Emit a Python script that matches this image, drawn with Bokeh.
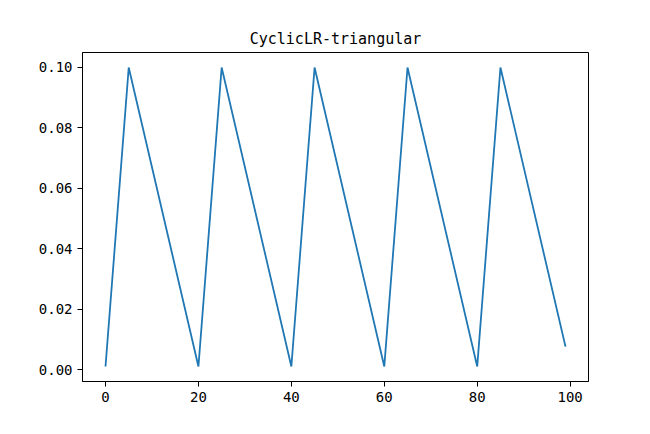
from bokeh.plotting import figure
from bokeh.models import FixedTicker, Range1d, CustomJSTickFormatter
from bokeh.embed import file_html
from bokeh.resources import INLINE

# Vertices of the CyclicLR triangular schedule (epochs and learning rate)
epochs = [0, 5, 20, 25, 40, 45, 60, 65, 80, 85, 99]
lr = [0.001, 0.1, 0.001, 0.1, 0.001, 0.1, 0.001, 0.1, 0.001, 0.1, 0.0076]
x_ticks = [0, 20, 40, 60, 80, 100]
y_ticks = [0.00, 0.02, 0.04, 0.06, 0.08, 0.10]
title_text = "CyclicLR-triangular"

FONT = "DejaVu Sans Mono"

p = figure(width=634, height=418, output_backend="svg", toolbar_location=None,
           title=title_text,
           x_range=Range1d(-4.95, 103.95), y_range=Range1d(-0.00395, 0.10495),
           min_border_left=82, min_border_right=46, min_border_top=52, min_border_bottom=37)

p.line(epochs, lr, line_color="#1f77b4", line_width=1.8)

p.title.align = "center"
p.title.text_font = FONT
p.title.text_font_size = "15px"
p.title.text_font_style = "normal"
p.title.text_color = "black"

p.xgrid.visible = False
p.ygrid.visible = False
p.outline_line_color = "black"
p.outline_line_width = 1
p.background_fill_color = "white"
p.border_fill_color = "white"

for ax in (p.xaxis[0], p.yaxis[0]):
    ax.major_label_text_font = FONT
    ax.major_label_text_font_size = "14px"
    ax.major_label_text_color = "black"
    ax.axis_line_color = "black"
    ax.major_tick_line_color = "black"
    ax.major_tick_out = 5
    ax.major_tick_in = 0
    ax.minor_tick_line_color = None

p.xaxis.ticker = FixedTicker(ticks=x_ticks)
p.yaxis.ticker = FixedTicker(ticks=y_ticks)
p.yaxis.formatter = CustomJSTickFormatter(code="return tick.toFixed(2);")

open("out.html", "w").write(file_html(p, INLINE))
